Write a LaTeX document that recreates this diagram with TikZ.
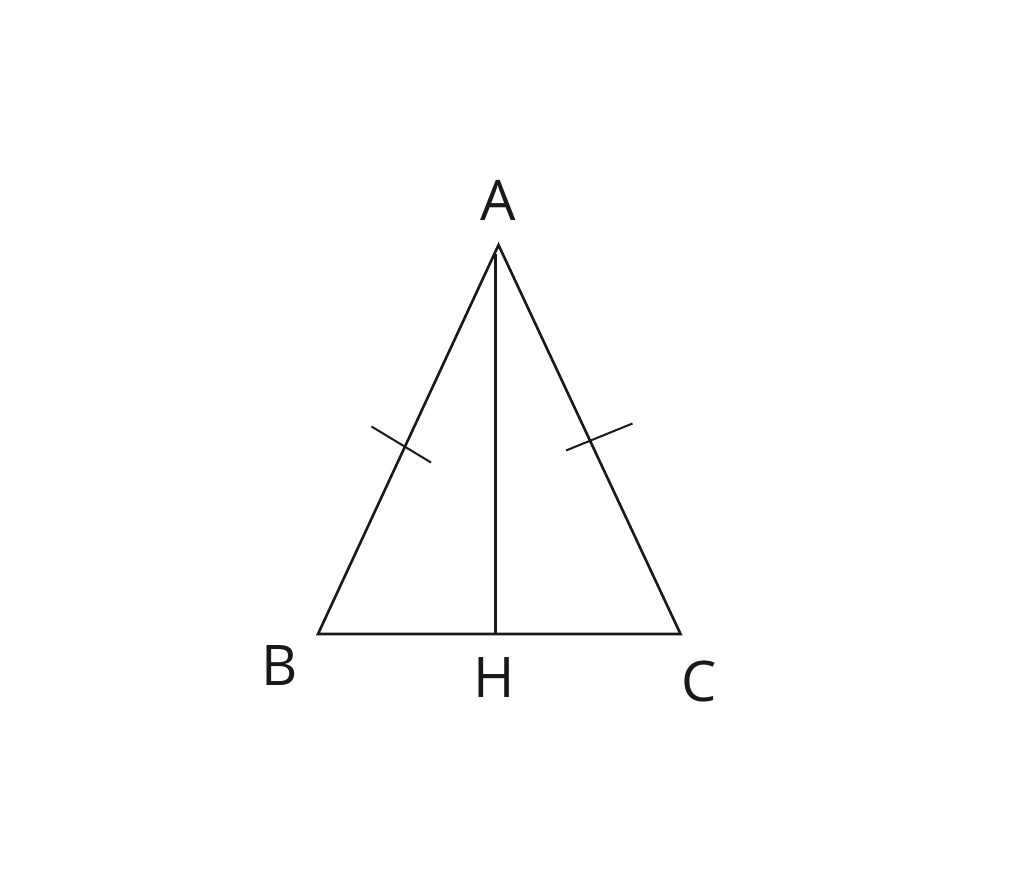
\documentclass[tikz,border=0pt]{standalone}
\usepackage{fontspec}
\setmainfont{Open Sans}
\begin{document}
\begin{tikzpicture}[x=1pt,y=-1pt,
  edge/.style={line width=2.6pt,black!90},
  tick/.style={line width=2pt,black!90},
  lbl/.style={font=\fontsize{56}{60}\selectfont,inner sep=0pt,text=black!90}]
\useasboundingbox (0,0) rectangle (1024,894);
\coordinate (A) at (498.5,245);
\coordinate (B) at (318,634);
\coordinate (C) at (680.5,634);
\coordinate (H) at (495.5,634);
\coordinate (Atop) at (495.5,254);
\coordinate (t1) at (371.5,426.5);
\coordinate (t2) at (431,462.5);
\coordinate (t3) at (566,450.5);
\coordinate (t4) at (632.5,423.5);
\draw[edge] (A) -- (B) -- (C) -- cycle;
\draw[edge] (Atop) -- (H);
\draw[tick] (t1) -- (t2);
\draw[tick] (t3) -- (t4);
\node[lbl] (lA) at (498,200) {A};
\node[lbl] (lB) at (280,666) {B};
\node[lbl] (lH) at (494.5,677.5) {H};
\node[lbl] (lC) at (699.5,681) {C};
\end{tikzpicture}
\end{document}
